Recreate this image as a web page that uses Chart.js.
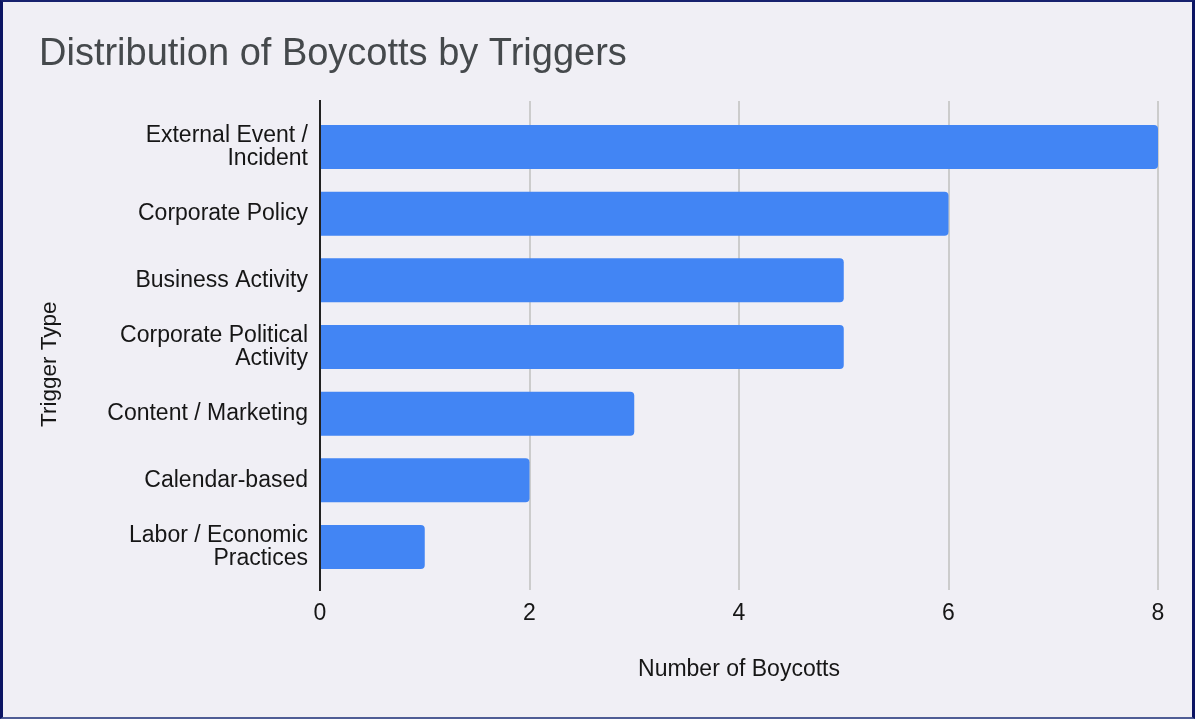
<!DOCTYPE html>
<html>
<head>
<meta charset="utf-8">
<script src="https://cdn.jsdelivr.net/npm/chart.js@4/dist/chart.umd.min.js"></script>
<style>
  html, body { margin: 0; padding: 0; background: #f0eff5; }
  #frame {
    position: absolute; left: 0; top: 0; width: 1195px; height: 719px;
    box-sizing: border-box; background: #f0eff5;
    border-left: 3px solid #0b1463; border-right: 3px solid #0b1463;
    border-top: 2px solid #17226e; border-bottom: 2px solid #4f5d95;
  }
  #wrap { position: absolute; left: 0; top: 0; width: 1195px; height: 719px; }
</style>
</head>
<body>
<div id="frame"></div>
<div id="wrap"><canvas id="chart" width="1195" height="719"></canvas></div>
<script>
// Boycott counts per trigger type
const triggers = [
  ["External Event /", "Incident"],
  "Corporate Policy",
  "Business Activity",
  ["Corporate Political", "Activity"],
  "Content / Marketing",
  "Calendar-based",
  ["Labor / Economic", "Practices"]
];
const boycotts = [8, 6, 5, 5, 3, 2, 1];
const countTicks = [0, 2, 4, 6, 8];

const FONT = "'Liberation Sans', Arial, Helvetica, sans-serif";

// Triggers are placed on a numeric index axis so the rows can sit with a bit
// of extra breathing room at the top and bottom of the plot.
const points = boycotts.map((v, i) => ({ x: v, y: i }));

new Chart(document.getElementById('chart'), {
  type: 'bar',
  data: {
    datasets: [{
      label: 'Number of Boycotts',
      data: points,
      backgroundColor: '#4285f4',
      borderRadius: 4,
      borderSkipped: 'start',
      barPercentage: 0.66,
      categoryPercentage: 1
    }]
  },
  options: {
    indexAxis: 'y',
    responsive: false,
    animation: false,
    layout: { padding: { left: 39, right: 37, top: 0, bottom: 0 } },
    plugins: {
      legend: { display: false },
      tooltip: { enabled: false },
      title: {
        display: true,
        text: 'Distribution of Boycotts by Triggers',
        align: 'start',
        color: '#45494c',
        font: { family: FONT, size: 38, weight: 'normal', lineHeight: 1.2 },
        padding: { top: 32.2, bottom: 23.2 }
      }
    },
    scales: {
      x: {
        type: 'linear',
        min: countTicks[0],
        max: countTicks[countTicks.length - 1],
        afterBuildTicks: (scale) => { scale.ticks = countTicks.map(v => ({ value: v })); },
        afterFit: (scale) => { scale.height = 129; },
        grid: {
          color: (ctx) => (ctx.tick && ctx.tick.value === 0) ? 'rgba(0,0,0,0)' : '#cccccc',
          lineWidth: 2,
          drawTicks: false
        },
        border: { display: false },
        ticks: {
          color: '#161616',
          padding: 9.5,
          font: { family: FONT, size: 23, lineHeight: 1.2 }
        },
        title: {
          display: true,
          text: 'Number of Boycotts',
          color: '#161616',
          font: { family: FONT, size: 23, lineHeight: 1.2 },
          padding: { top: 0, bottom: 35.2 }
        }
      },
      y: {
        type: 'linear',
        reverse: true,
        offset: false,
        min: -0.69,
        max: 6.645,
        afterBuildTicks: (scale) => { scale.ticks = triggers.map((_, i) => ({ value: i })); },
        afterFit: (scale) => { scale.width = 281; },
        grid: { display: false, drawTicks: false, offset: false },
        border: { display: true, color: '#222222', width: 2 },
        ticks: {
          autoSkip: false,
          color: '#161616',
          padding: 12,
          font: { family: FONT, size: 23, lineHeight: 1.02 },
          callback: (value) => triggers[value]
        },
        title: {
          display: true,
          text: 'Trigger Type      ',
          color: '#161616',
          font: { family: FONT, size: 22.5, lineHeight: 1.2 },
          padding: { top: -3, bottom: 0 }
        }
      }
    }
  }
});
</script>
</body>
</html>
